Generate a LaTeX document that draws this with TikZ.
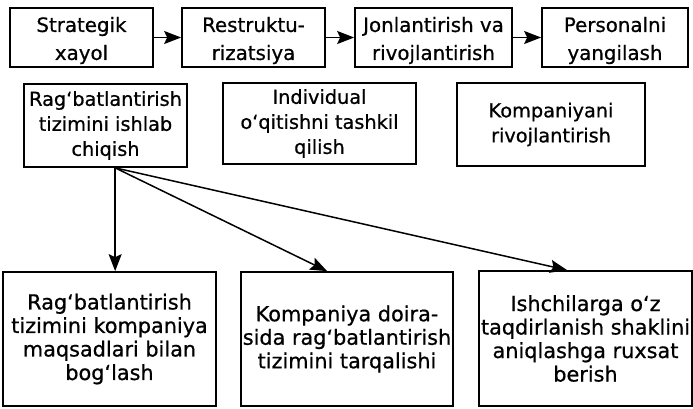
\documentclass[tikz,border=0pt]{standalone}
\usepackage{fontspec}
\setmainfont{DejaVu Sans}[FakeBold=0.7]
\usetikzlibrary{arrows.meta,calc}
\newcommand{\lowerby}{\rule{0pt}{21pt}}
\begin{document}
\begin{tikzpicture}[x=1pt,y=1pt,
  box/.style={draw, line width=1.7pt, inner sep=0pt, align=center},
  toptext/.style={font=\fontsize{19.8}{28}\selectfont},
  midtext/.style={font=\fontsize{19.3}{25}\selectfont},
  bottext/.style={font=\fontsize{20.8}{23.5}\selectfont},
  arr/.style={-{Stealth[length=17pt,width=13pt,inset=3pt]}, line width=1.5pt}]
\fill[white] (0,0) rectangle (693,-408);
\useasboundingbox (0,0) rectangle (693,-408);
% top row
\node[box, toptext, minimum width=143pt, minimum height=59pt] (T1) at (81.5,-37.5) {\lowerby Strategik\\xayol};
\node[box, toptext, minimum width=143pt, minimum height=59pt] (T2) at (253.5,-37.5) {\lowerby Restruktu-\\rizatsiya};
\node[box, toptext, minimum width=157pt, minimum height=59pt] (T3) at (433.5,-37.5) {\lowerby Jonlantirish va\\rivojlantirish};
\node[box, toptext, minimum width=146pt, minimum height=59pt] (T4) at (615,-37.5) {\lowerby Personalni\\yangilash};
\draw[arr] (T1) -- (T2);
\draw[arr] (T2) -- (T3);
\draw[arr] (T3) -- (T4);
% middle row
\node[box, midtext, minimum width=163pt, minimum height=83pt] (M1) at (105.5,-125.5) {Rag‘batlantirish\\tizimini ishlab\\chiqish};
\node[box, midtext, minimum width=193pt, minimum height=81pt] (M2) at (319.5,-123.5) {Individual\\o‘qitishni tashkil\\qilish};
\node[box, midtext, minimum width=188pt, minimum height=83pt] (M3) at (551,-124.5) {Kompaniyani\\rivojlantirish};
% bottom row
\node[box, bottext, minimum width=213pt, minimum height=134pt] (B1) at (109.5,-339) {Rag‘batlantirish\\tizimini kompaniya\\maqsadlari bilan\\bog‘lash};
\node[box, bottext, minimum width=212pt, minimum height=134pt] (B2) at (347,-339) {Kompaniya doira-\\sida rag‘batlantirish\\tizimini tarqalishi};
\node[box, bottext, minimum width=213pt, minimum height=135pt] (B3) at (585.5,-338.5) {Ishchilarga o‘z\\taqdirlanish shaklini\\aniqlashga ruxsat\\berish};
% connectors
\coordinate (src) at ($(M1.south west)+(92,0)$);
\draw[arr] (src) -- (src |- B1.north);
\draw[arr] (src) -- ($(B2.north west)+(87,0)$);
\draw[arr] (src) -- ($(B3.north west)+(89,0)$);
\end{tikzpicture}
\end{document}
